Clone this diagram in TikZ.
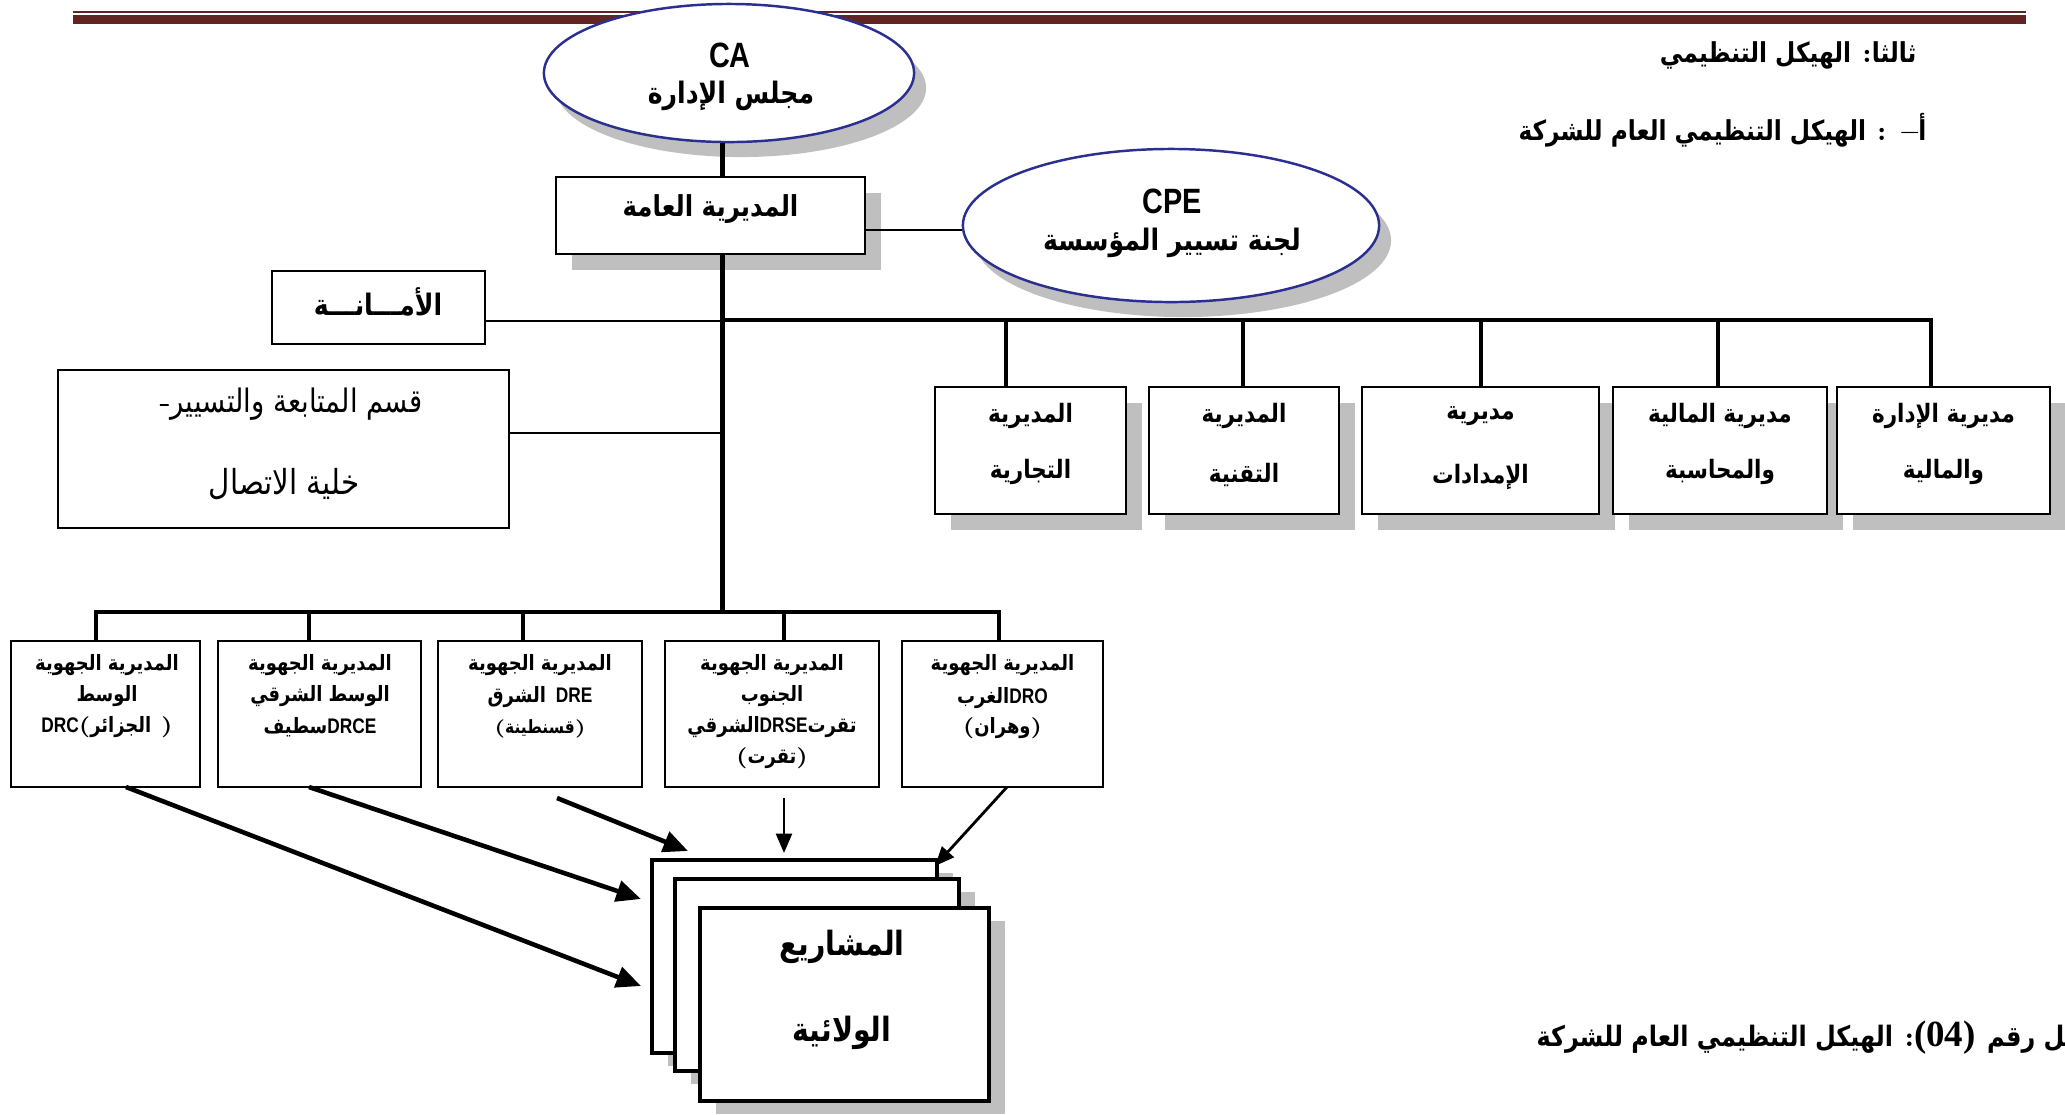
\documentclass[tikz,border=0pt]{standalone}
\usepackage{fontspec}
\usetikzlibrary{shapes.geometric,shadows,arrows.meta}
\TeXXeTstate=1
\newfontfamily\arfont[Script=Arabic,FakeStretch=0.85]{DejaVu Sans}
\newfontfamily\latfont{Liberation Sans}
\newfontfamily\narfont[FakeStretch=0.82]{Liberation Sans}
\newfontfamily\serfont{Liberation Serif}
\newcommand\ar[1]{{\arfont\beginR #1\endR}}
\newcommand\lt[1]{{\narfont #1}}
\definecolor{shgray}{HTML}{BFBFBF}
\definecolor{navyb}{HTML}{2B2F8F}
\definecolor{maroonr}{HTML}{622423}
\begin{document}
\begin{tikzpicture}[x=0.01cm,y=-0.01cm,
  box/.style={draw=black, line width=0.6pt, fill=white, inner sep=0pt},
  sbox/.style={box, drop shadow={fill=shgray, opacity=1, shadow xshift=0.16cm, shadow yshift=-0.16cm}},
  stk/.style={draw=black, line width=1.3pt, fill=white, inner sep=0pt,
     drop shadow={fill=shgray, opacity=1, shadow xshift=0.16cm, shadow yshift=-0.13cm}},
  oval/.style={ellipse, draw=navyb, line width=0.7pt, fill=white, inner sep=0pt,
     drop shadow={fill=shgray, opacity=1, shadow xshift=0.12cm, shadow yshift=-0.15cm}},
  tx/.style={inner sep=0pt, font=\bfseries\fontsize{#1}{#1}\selectfont},
  txr/.style={inner sep=0pt, font=\fontsize{#1}{#1}\selectfont},
  main/.style={line width=1.3pt},
  bar/.style={line width=1.4pt, line cap=rect},
  dropl/.style={line width=1pt},
  thinl/.style={line width=0.5pt},
  arr/.style={line width=1.3pt, -{Triangle[length=7pt,width=6pt]}},
  arrt/.style={line width=0.8pt, -{Triangle[length=5.5pt,width=4.5pt]}}
]
\useasboundingbox (0,0) rectangle (2065,1114);
% top rule
\fill[maroonr] (73,10.5) rectangle (2026,12.5);
\fill[maroonr] (73,14.5) rectangle (2026,24);

% titles
\node[tx=7.8, anchor=east] (title1) at (1917,55) {\ar{الهيكل التنظيمي} :\ar{ثالثا}};
\node[tx=7.8, anchor=east] (title2) at (1927,130) {\ar{الهيكل التنظيمي العام للشركة} : –\ar{أ}};

% CA
\node[oval, minimum width=3.7cm, minimum height=1.38cm] (ca) at (729,73) {};
\node[tx=10] (catx) at (730,55) {\lt{CA}};
\node[tx=8.4] (caar) at (731,96) {\ar{مجلس الإدارة}};

% direction generale
\node[sbox, minimum width=3.09cm, minimum height=0.77cm] (dg) at (710.5,215.5) {};
\node[tx=8.2] (dgt) at (710.5,209) {\ar{المديرية العامة}};

% CPE
\node[oval, minimum width=4.16cm, minimum height=1.53cm] (cpe) at (1171,225.5) {};
\node[tx=10] (cpet) at (1172,201) {\lt{CPE}};
\node[tx=8.4] (cpear) at (1172,243) {\ar{لجنة تسيير المؤسسة}};

\coordinate (mx) at (722.6,0);
\coordinate (ju) at (722.6,320);
\coordinate (jl) at (722.6,612);

\draw[main] (ca.south -| mx) -- (dg.north -| mx);
\draw[thinl] ([yshift=-1.45mm]dg.east) -- ([yshift=-1.45mm]dg.east -| cpe.west);

% amana
\node[box, minimum width=2.13cm, minimum height=0.73cm] (am) at (378.5,307.5) {};
\node[tx=8.4] (amt) at (378,302) {\ar{الأمـــانـــة}};
% follow-up
\node[box, minimum width=4.51cm, minimum height=1.58cm] (fu) at (283.5,449) {};
\node[txr=9.2] (fu1) at (291,404) {-\ar{قسم المتابعة والتسيير}};
\node[txr=9.8] (fu2) at (284,484) {\ar{خلية الاتصال}};

\draw[main] (dg.south -| mx) -- (jl);
\draw[thinl] ([yshift=-1.35mm]am.east) -- ([yshift=-1.35mm]am.east -| mx);
\draw[thinl] ([yshift=1.6mm]fu.east) -- ([yshift=1.6mm]fu.east -| mx);

% upper row
\node[sbox, minimum width=1.91cm, minimum height=1.27cm] (u1) at (1030.5,450.5) {};
\node[sbox, minimum width=1.90cm, minimum height=1.27cm] (u2) at (1244,450.5) {};
\node[sbox, minimum width=2.37cm, minimum height=1.27cm] (u3) at (1480.5,450.5) {};
\node[sbox, minimum width=2.14cm, minimum height=1.27cm] (u4) at (1720,450.5) {};
\node[sbox, minimum width=2.13cm, minimum height=1.27cm] (u5) at (1943.5,450.5) {};
\node[tx=7.2] (u1a) at (1030.5,416) {\ar{المديرية}};
\node[tx=7.2] (u1b) at (1030.5,472) {\ar{التجارية}};
\node[tx=7.2] (u2a) at (1244,416) {\ar{المديرية}};
\node[tx=7.2] (u2b) at (1244,475) {\ar{التقنية}};
\node[tx=7.2] (u3a) at (1480.5,416) {\ar{مديرية}};
\node[tx=7.2] (u3b) at (1480.5,477) {\ar{الإمدادات}};
\node[tx=7.2] (u4a) at (1720,416) {\ar{مديرية المالية}};
\node[tx=7.2] (u4b) at (1720,472) {\ar{والمحاسبة}};
\node[tx=7.2] (u5a) at (1943.5,416) {\ar{مديرية الإدارة}};
\node[tx=7.2] (u5b) at (1943.5,472) {\ar{والمالية}};

\coordinate (t1) at (1006,320);
\coordinate (t2) at (1243,320);
\coordinate (t3) at (1481,320);
\coordinate (t4) at (1718,320);
\coordinate (t5) at (1931,320);
\draw[bar] (ju) -- (t5);
\foreach \i in {1,...,5} { \draw[dropl] (t\i) -- (t\i |- u\i.north); }

% lower row
\node[box, minimum width=1.89cm, minimum height=1.46cm] (l1) at (105.5,714) {};
\node[box, minimum width=2.03cm, minimum height=1.46cm] (l2) at (319.5,714) {};
\node[box, minimum width=2.04cm, minimum height=1.46cm] (l3) at (540,714) {};
\node[box, minimum width=2.14cm, minimum height=1.46cm] (l4) at (772,714) {};
\node[box, minimum width=2.01cm, minimum height=1.46cm] (l5) at (1002.5,714) {};

\node[tx=6] (l1a) at (107,665) {\ar{المديرية الجهوية}};
\node[tx=6] (l1b) at (107,696) {\ar{الوسط}};
\node[tx=6] (l1c) at (107,727) {\lt{DRC}(\ar{الجزائر} )};
\node[tx=6] (l2a) at (320,665) {\ar{المديرية الجهوية}};
\node[tx=6] (l2b) at (320,696) {\ar{الوسط الشرقي}};
\node[tx=6] (l2c) at (320,727) {\ar{سطيف}\lt{DRCE}};
\node[tx=6] (l3a) at (540,665) {\ar{المديرية الجهوية}};
\node[tx=6] (l3b) at (540,697) {\ar{الشرق} \lt{DRE}};
\node[tx=5.2] (l3c) at (540,729) {(\ar{قسنطينة})};
\node[tx=6] (l4a) at (772,665) {\ar{المديرية الجهوية}};
\node[tx=6] (l4b) at (772,696) {\ar{الجنوب}};
\node[tx=6] (l4c) at (772,727) {\ar{الشرقي}\lt{DRSE}\ar{تقرت}};
\node[tx=6] (l4d) at (772,758) {(\ar{تقرت})};
\node[tx=6] (l5a) at (1002.5,665) {\ar{المديرية الجهوية}};
\node[tx=6] (l5b) at (1002.5,698) {\ar{الغرب}\lt{DRO}};
\node[tx=6] (l5c) at (1002.5,728) {(\ar{وهران})};

\coordinate (b1) at (96,612);
\coordinate (b2) at (309,612);
\coordinate (b3) at (523,612);
\coordinate (b4) at (784,612);
\coordinate (b5) at (999,612);
\draw[bar] (b1) -- (b5);
\foreach \i in {1,...,5} { \draw[dropl] (b\i) -- (b\i |- l\i.north); }

% stacked project boxes
\node[stk, minimum width=2.85cm, minimum height=1.93cm] (pback) at (794.5,956.5) {};
\node[stk, minimum width=2.84cm, minimum height=1.92cm] (pmid) at (817,975) {};
\node[stk, minimum width=2.89cm, minimum height=1.93cm] (pfront) at (844.5,1004.5) {};
\node[tx=9.5] (pf1) at (842,947) {\ar{المشاريع}};
\node[tx=9.5] (pf2) at (842,1033) {\ar{الولائية}};

% arrows
\coordinate (a1s) at (126,787);
\coordinate (a1e) at (641,986);
\coordinate (a2s) at (309,787);
\coordinate (a2e) at (641,899);
\coordinate (a3s) at (557,798);
\coordinate (a3e) at (688,851);
\coordinate (a4s) at (784,798);
\coordinate (a4e) at (784,853);
\coordinate (a5s) at (1007,787);
\coordinate (a5e) at (935,866);
\draw[arr] (a1s) -- (a1e);
\draw[arr] (a2s) -- (a2e);
\draw[arr] (a3s) -- (a3e);
\draw[arrt] (a4s) -- (a4e);
\draw[arrt] (a5s) -- (a5e);

% caption
\node[tx=8, anchor=west] (cap) at (1536,1038) {\ar{الهيكل التنظيمي العام للشركة} :{\serfont\fontsize{10.5}{10.5}\selectfont(04)} \ar{الشكل رقم}};
\end{tikzpicture}
\end{document}
